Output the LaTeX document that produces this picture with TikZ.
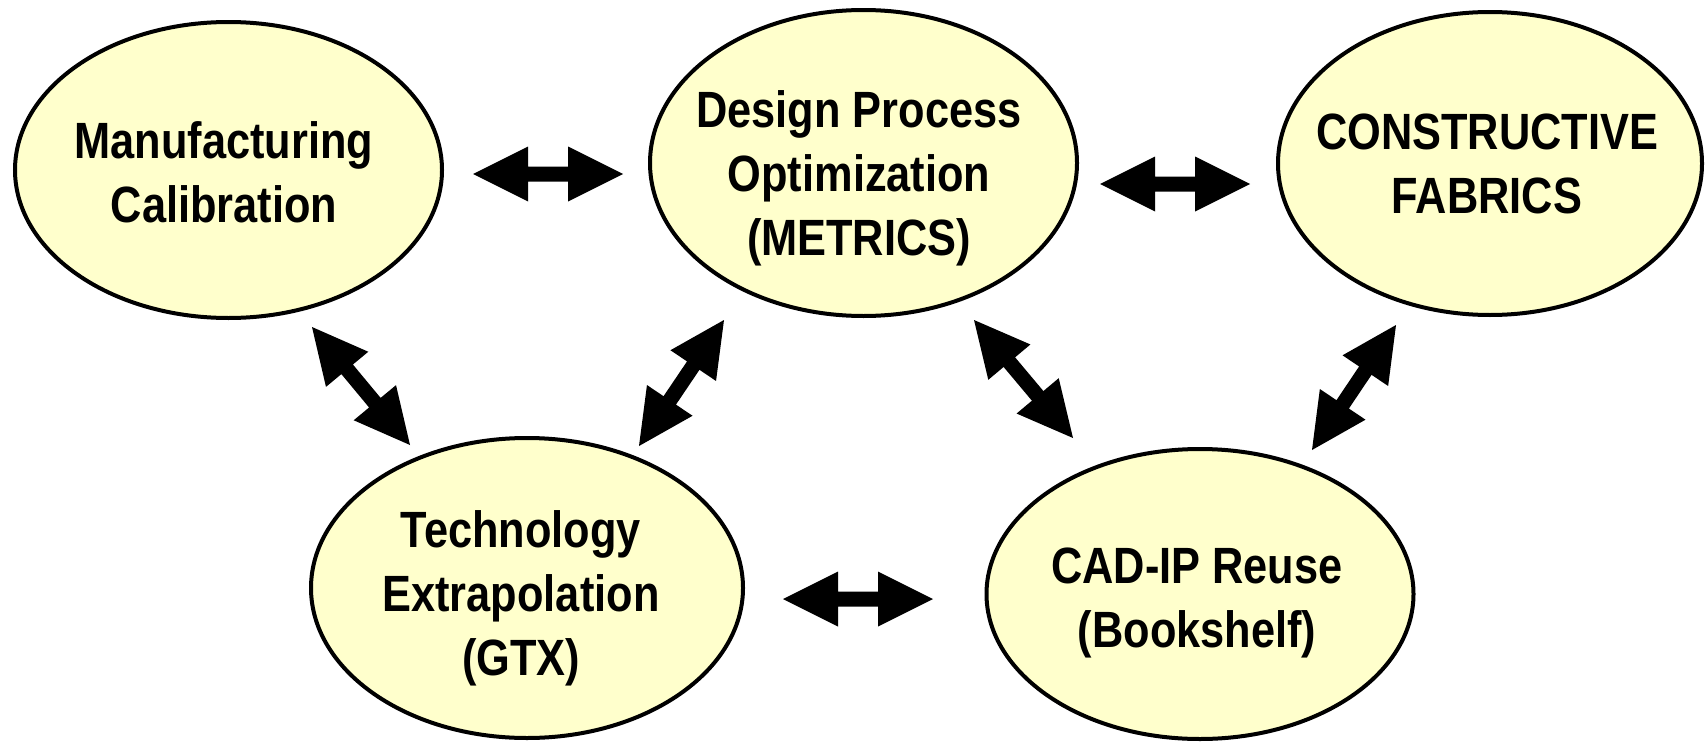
\documentclass[tikz,border=0pt]{standalone}
\usepackage{fontspec}
\setmainfont{Liberation Sans}[FakeStretch=0.85]
\usetikzlibrary{shapes.geometric,calc}
\definecolor{ellfill}{HTML}{FFFFCC}
\tikzset{
  ell/.style={ellipse, draw=black, line width=4pt, fill=ellfill, inner sep=0pt},
  lbl/.style={font=\fontsize{51}{64}\selectfont\bfseries, align=center, inner sep=0pt},
  blockarrow/.style={fill=black}
}
\newcommand\dblblockarrow[2]{%
  \path ($(#1)!55pt!(#2)$) coordinate (ba1) ($(#2)!55pt!(#1)$) coordinate (ba2);
  \fill[blockarrow] (#1) -- ($(ba1)!27.5pt!90:(#2)$) -- ($(ba1)!7.5pt!90:(#2)$)
    -- ($(ba2)!7.5pt!-90:(#1)$) -- ($(ba2)!27.5pt!-90:(#1)$) -- (#2)
    -- ($(ba2)!27.5pt!90:(#1)$) -- ($(ba2)!7.5pt!90:(#1)$)
    -- ($(ba1)!7.5pt!-90:(#2)$) -- ($(ba1)!27.5pt!-90:(#2)$) -- cycle;
}
\begin{document}
\begin{tikzpicture}[x=1pt,y=-1pt]
\useasboundingbox[fill=white] (0,0) rectangle (1705,744);
% ellipses
\node[ell, minimum width=427pt, minimum height=296pt] (mfg)  at (228.5,170) {};
\node[ell, minimum width=427pt, minimum height=306pt] (dpo)  at (863.5,163) {};
\node[ell, minimum width=424pt, minimum height=303pt] (cf)   at (1490,163.5) {};
\node[ell, minimum width=432pt, minimum height=300pt] (tech) at (527,588) {};
\node[ell, minimum width=427pt, minimum height=290pt] (cad)  at (1200,594) {};
% labels
\node[lbl] (mfgT)  at (224,172)  {Manufacturing\\Calibration};
\node[lbl] (dpoT)  at (859,178)  {Design Process\\Optimization\\(METRICS)};
\node[lbl] (cfT)   at (1487,164) {CONSTRUCTIVE\\FABRICS};
\node[lbl] (techT) at (521,598)  {Technology\\Extrapolation\\(GTX)};
\node[lbl] (cadT)  at (1197,603) {CAD-IP Reuse\\(Bookshelf)};
% arrow ends
\coordinate (h1a) at (473,174);  \coordinate (h1b) at (623,174);
\coordinate (h2a) at (1100,184); \coordinate (h2b) at (1250,184);
\coordinate (h3a) at (783,599);  \coordinate (h3b) at (933,599);
\coordinate (d1a) at (312,327);  \coordinate (d1b) at (410,445);
\coordinate (d2a) at (724,320);  \coordinate (d2b) at (639,446);
\coordinate (d3a) at (974,320);  \coordinate (d3b) at (1073,438);
\coordinate (d4a) at (1396,325); \coordinate (d4b) at (1312,450);
\dblblockarrow{h1a}{h1b}
\dblblockarrow{h2a}{h2b}
\dblblockarrow{h3a}{h3b}
\dblblockarrow{d1a}{d1b}
\dblblockarrow{d2a}{d2b}
\dblblockarrow{d3a}{d3b}
\dblblockarrow{d4a}{d4b}
\end{tikzpicture}
\end{document}
